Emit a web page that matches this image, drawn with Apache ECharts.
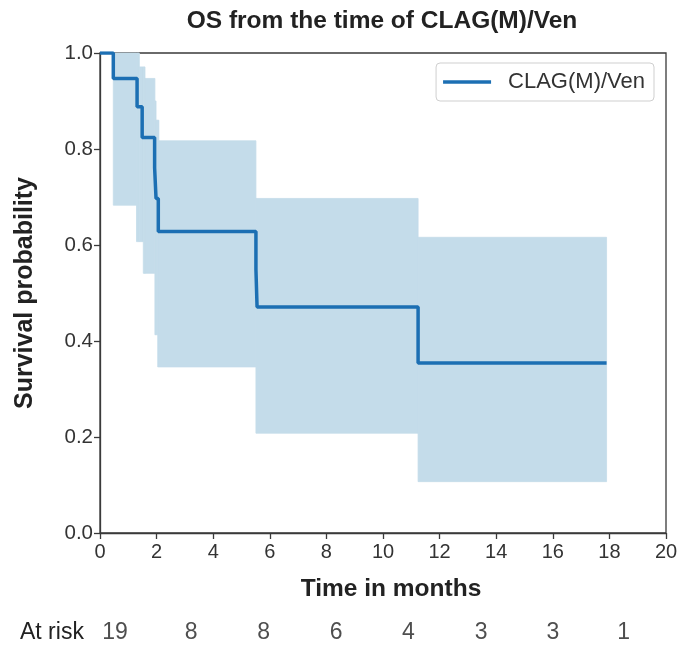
<!DOCTYPE html>
<html>
<head>
<meta charset="utf-8">
<script src="https://cdn.jsdelivr.net/npm/echarts@6/dist/echarts.min.js"></script>
<style>
  html, body { margin: 0; padding: 0; background: #fff; }
</style>
</head>
<body>
<div id="km_chart" style="width: 688px; height: 647px;"></div>
<script>
// Kaplan-Meier curve (step values, months)
var kmTimes = [0, 0.47, 1.31, 1.49, 1.93, 1.98, 2.06, 5.51, 5.55, 11.24, 17.9];
var kmSurv = [1.0, 0.947, 0.888, 0.824, 0.761, 0.697, 0.628, 0.549, 0.471, 0.354, 0.354];

// confidence band, one step per interval [ciTimes[i], ciTimes[i+1]]
var ciTimes = [0, 0.47, 1.29, 1.39, 1.53, 1.59, 1.94, 1.98, 2.04, 2.08, 5.51, 11.24, 17.9];
var ciLower = [1.0, 0.683, 0.607, 0.607, 0.541, 0.541, 0.413, 0.413, 0.346, 0.346, 0.208, 0.107];
var ciUpper = [1.0, 1.0, 1.0, 0.971, 0.971, 0.947, 0.90, 0.86, 0.86, 0.817, 0.697, 0.616];

// number at risk row
var atRiskTimes = [0.53, 3.22, 5.78, 8.34, 10.9, 13.47, 16.0, 18.5];
var atRiskCounts = [19, 8, 8, 6, 4, 3, 3, 1];

var xTicks = { min: 0, max: 20, interval: 2 };
var yTicks = { min: 0, max: 1, interval: 0.2 };

var fontName = 'Liberation Sans, Arial, sans-serif';
var axisColor = '#3a3a3a';
var bandColor = '#c4dcea';
var lineColor = '#1c6fb3';

var chart = echarts.init(document.getElementById('km_chart'));

var bandData = ciLower.map(function (lo, i) {
    return [ciTimes[i], ciTimes[i + 1], lo, ciUpper[i]];
});

var option = {
    backgroundColor: '#fff',
    animation: false,
    textStyle: { fontFamily: fontName },
    title: {
        text: 'OS from the time of CLAG(M)/Ven',
        left: 377,
        textAlign: 'center',
        top: 4,
        textStyle: { fontSize: 24.5, fontWeight: 'bold', color: '#222', fontFamily: fontName }
    },
    legend: {
        data: [{ name: 'CLAG(M)/Ven', icon: 'rect' }],
        right: 34,
        top: 63,
        padding: [8, 9, 8, 7],
        borderColor: '#cfcfcf',
        borderWidth: 1,
        borderRadius: 4,
        backgroundColor: '#fff',
        itemWidth: 48,
        itemHeight: 3.5,
        textStyle: { fontSize: 22, lineHeight: 22, color: '#333', padding: [0, 0, 0, 12], fontFamily: fontName }
    },
    grid: [
        { left: 100, right: 22, top: 53, bottom: 114, show: true, borderColor: axisColor, borderWidth: 1.3 },
        { left: 100, right: 22, top: 618, height: 30 }
    ],
    xAxis: [
        {
            type: 'value',
            gridIndex: 0,
            min: xTicks.min,
            max: xTicks.max,
            interval: xTicks.interval,
            name: 'Time in months',
            nameLocation: 'middle',
            nameGap: 44,
            nameTextStyle: { fontSize: 24.5, fontWeight: 'bold', color: '#222', padding: [0, 0, 0, 16] },
            axisLine: { show: true, lineStyle: { color: axisColor, width: 1.3 } },
            axisTick: { show: true, length: 6, lineStyle: { color: axisColor, width: 1.3 } },
            axisLabel: { fontSize: 20, color: '#333', margin: 9 },
            splitLine: { show: false }
        },
        { type: 'value', gridIndex: 1, min: 0, max: 20, show: false }
    ],
    yAxis: [
        {
            type: 'value',
            gridIndex: 0,
            min: yTicks.min,
            max: yTicks.max,
            interval: yTicks.interval,
            name: 'Survival probability',
            nameLocation: 'middle',
            nameGap: 62,
            nameTextStyle: { fontSize: 25, fontWeight: 'bold', color: '#222' },
            axisLine: { show: true, lineStyle: { color: axisColor, width: 1.3 } },
            axisTick: { show: true, length: 6, lineStyle: { color: axisColor, width: 1.3 } },
            axisLabel: {
                fontSize: 20.5, color: '#333', margin: 7,
                formatter: function (v) { return v.toFixed(1); }
            },
            splitLine: { show: false }
        },
        { type: 'value', gridIndex: 1, min: 0, max: 1, show: false }
    ],
    graphic: [
        {
            type: 'text',
            left: 20,
            top: 621,
            style: { text: 'At risk', fontSize: 23, fill: '#222', fontFamily: fontName }
        }
    ],
    series: [
        {
            name: 'ciBand',
            type: 'custom',
            silent: true,
            z: 1,
            renderItem: function (params, api) {
                var p0 = api.coord([api.value(0), api.value(3)]);
                var p1 = api.coord([api.value(1), api.value(2)]);
                return {
                    type: 'rect',
                    shape: { x: p0[0], y: p0[1], width: p1[0] - p0[0], height: p1[1] - p0[1] },
                    style: { fill: bandColor, stroke: bandColor, lineWidth: 0.8 }
                };
            },
            encode: { x: [0, 1], y: [2, 3] },
            data: bandData
        },
        {
            name: 'CLAG(M)/Ven',
            type: 'line',
            step: 'end',
            symbol: 'none',
            color: lineColor,
            lineStyle: { width: 3.5, color: lineColor },
            z: 5,
            data: kmTimes.map(function (t, i) { return [t, kmSurv[i]]; })
        },
        {
            name: 'atRisk',
            type: 'scatter',
            xAxisIndex: 1,
            yAxisIndex: 1,
            symbolSize: 0,
            silent: true,
            label: {
                show: true,
                position: 'inside',
                fontSize: 23,
                color: '#222',
                formatter: function (p) { return p.value[2]; }
            },
            data: atRiskTimes.map(function (t, i) { return [t, 0.5, atRiskCounts[i]]; })
        }
    ]
};

chart.setOption(option);
</script>
</body>
</html>
